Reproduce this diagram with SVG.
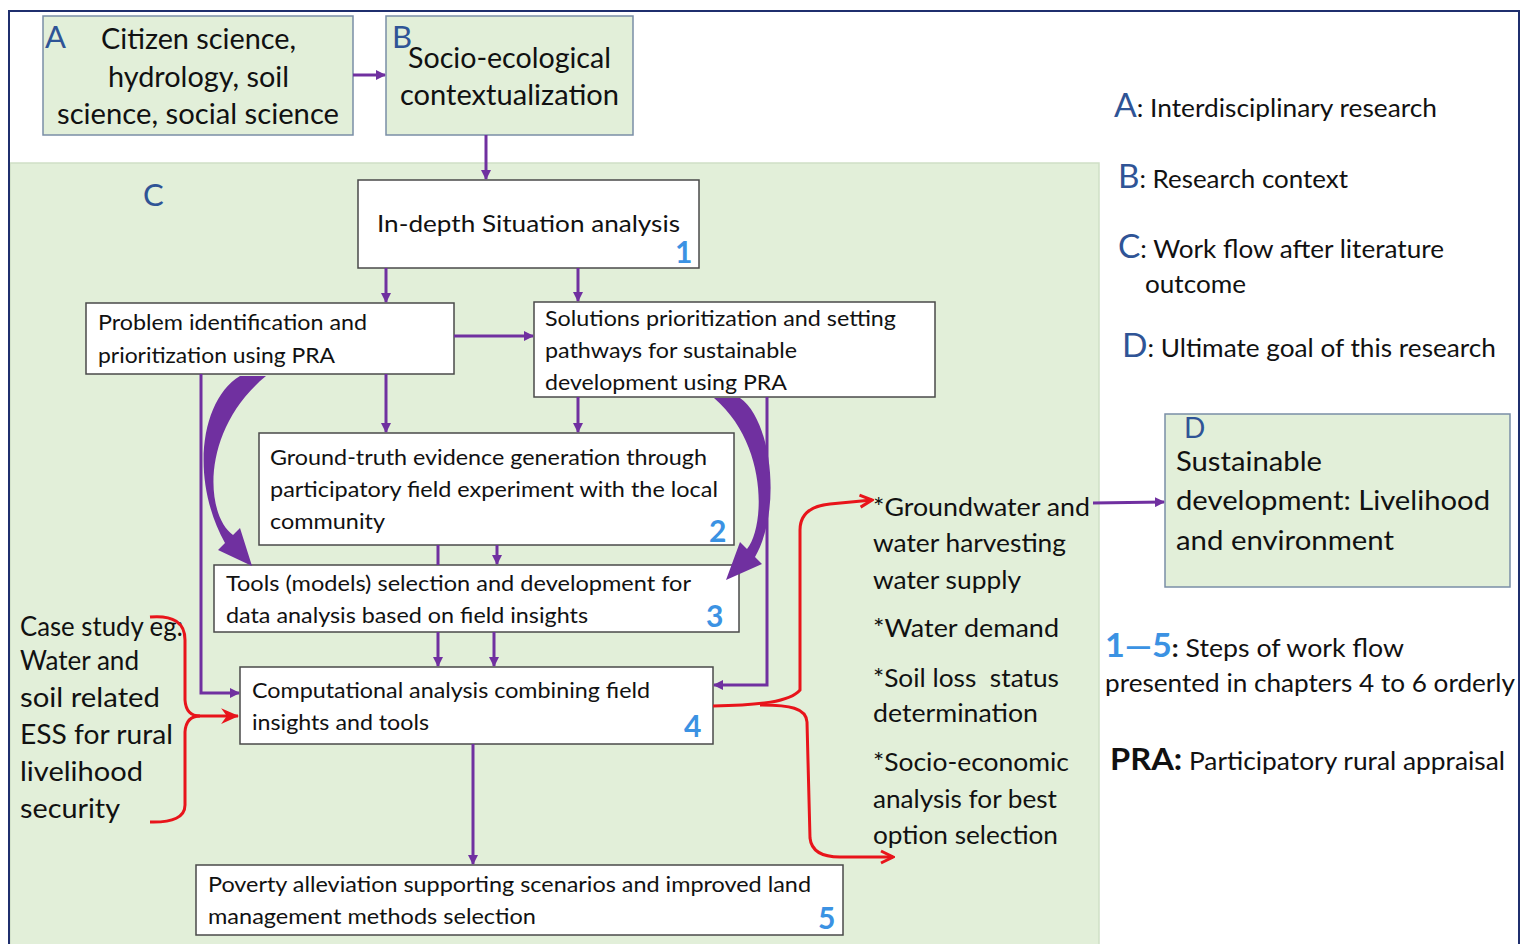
<svg xmlns="http://www.w3.org/2000/svg" width="1522" height="944" viewBox="0 0 1522 944">
<defs>
<style>
text{font-family:Lato,"Open Sans","Liberation Sans",sans-serif;fill:#111}
.gbox{fill:#e2efd9;stroke:#7a8ea6;stroke-width:1.5}
.wbox{fill:#fff;stroke:#4a4a4a;stroke-width:1.5}
.lt{fill:#2f5496}
.num{fill:#3b92e3;font-weight:bold;font-size:30px}
.bt{font-size:22px}
.pl{fill:none;stroke:#7030a0;stroke-width:3}
.rl{fill:none;stroke:#e8141b;stroke-width:3}
.cur{fill:#7030a0}
.leg{font-size:25px}
</style>
<marker id="ap" viewBox="0 0 10 10" refX="9" refY="5" markerWidth="10" markerHeight="10" markerUnits="userSpaceOnUse" orient="auto"><path d="M0 0 L10 5 L0 10 Z" fill="#7030a0"/></marker>
<marker id="ar" viewBox="0 0 16 16" refX="14" refY="8" markerWidth="16" markerHeight="16" markerUnits="userSpaceOnUse" orient="auto"><path d="M2 2 L14 8 L2 14" fill="none" stroke="#e8141b" stroke-width="3"/></marker>
<marker id="arf" viewBox="0 0 16 16" refX="15" refY="8" markerWidth="18" markerHeight="18" markerUnits="userSpaceOnUse" orient="auto"><path d="M0 1 L16 8 L0 15 L5 8 Z" fill="#e8141b"/></marker>
</defs>
<rect x="0" y="0" width="1522" height="944" fill="#fff"/>
<g id="frame">
<rect x="10" y="163" width="1089" height="790" fill="#e2efd9" stroke="#cfe0c6" stroke-width="1.5"/>
<path d="M9 950 L9 11 L1519 11 L1519 950" fill="none" stroke="#1f2f6e" stroke-width="2"/>
<text x="143" y="206" class="lt" font-size="31">C</text>
</g>
<g id="nodeA">
<rect x="43" y="16" width="310" height="119" class="gbox"/>
<text x="45" y="48" class="lt" font-size="31">A</text>
<text x="101" y="49" font-size="28" textLength="195" lengthAdjust="spacingAndGlyphs">Citizen science,</text>
<text x="108" y="87" font-size="28" textLength="181" lengthAdjust="spacingAndGlyphs">hydrology, soil</text>
<text x="57" y="124" font-size="28" textLength="282" lengthAdjust="spacingAndGlyphs">science, social science</text>
</g>
<g id="nodeB">
<rect x="386" y="16" width="247" height="119" class="gbox"/>
<text x="392" y="48" class="lt" font-size="31">B</text>
<text x="408" y="68" font-size="28" textLength="203" lengthAdjust="spacingAndGlyphs">Socio-ecological</text>
<text x="400" y="105" font-size="28" textLength="219" lengthAdjust="spacingAndGlyphs">contextualization</text>
</g>
<g id="node1">
<rect x="358" y="180" width="341" height="88" class="wbox"/>
<text x="377" y="232" font-size="24" textLength="303" lengthAdjust="spacingAndGlyphs">In-depth Situation analysis</text>
<text x="675" y="263" class="num">1</text>
</g>
<g id="nodeP">
<rect x="86" y="303" width="368" height="71" class="wbox"/>
<text x="98" y="330" class="bt" textLength="269" lengthAdjust="spacingAndGlyphs">Problem identification and</text>
<text x="98" y="363" class="bt" textLength="237" lengthAdjust="spacingAndGlyphs">prioritization using PRA</text>
</g>
<g id="nodeS">
<rect x="534" y="302" width="401" height="95" class="wbox"/>
<text x="545" y="326" class="bt" textLength="351" lengthAdjust="spacingAndGlyphs">Solutions prioritization and setting</text>
<text x="545" y="358" class="bt" textLength="252" lengthAdjust="spacingAndGlyphs">pathways for sustainable</text>
<text x="545" y="390" class="bt" textLength="242" lengthAdjust="spacingAndGlyphs">development using PRA</text>
</g>
<g id="node2">
<rect x="259" y="433" width="475" height="112" class="wbox"/>
<text x="270" y="465" class="bt" textLength="437" lengthAdjust="spacingAndGlyphs">Ground-truth evidence generation through</text>
<text x="270" y="497" class="bt" textLength="448" lengthAdjust="spacingAndGlyphs">participatory field experiment with the local</text>
<text x="270" y="529" class="bt" textLength="115" lengthAdjust="spacingAndGlyphs">community</text>
<text x="709" y="542" class="num">2</text>
</g>
<g id="node3">
<rect x="214" y="565" width="525" height="67" class="wbox"/>
<text x="226" y="591" class="bt" textLength="465" lengthAdjust="spacingAndGlyphs">Tools (models) selection and development for</text>
<text x="226" y="623" class="bt" textLength="362" lengthAdjust="spacingAndGlyphs">data analysis based on field insights</text>
<text x="706" y="627" class="num">3</text>
</g>
<g id="node4">
<rect x="240" y="667" width="473" height="77" class="wbox"/>
<text x="252" y="698" class="bt" textLength="398" lengthAdjust="spacingAndGlyphs">Computational analysis combining field</text>
<text x="252" y="730" class="bt" textLength="177" lengthAdjust="spacingAndGlyphs">insights and tools</text>
<text x="684" y="737" class="num">4</text>
</g>
<g id="node5">
<rect x="196" y="865" width="647" height="70" class="wbox"/>
<text x="208" y="892" class="bt" textLength="603" lengthAdjust="spacingAndGlyphs">Poverty alleviation supporting scenarios and improved land</text>
<text x="208" y="924" class="bt" textLength="328" lengthAdjust="spacingAndGlyphs">management methods selection</text>
<text x="818" y="929" class="num">5</text>
</g>
<g id="caseStudy">
<text x="20" y="636" font-size="27" textLength="163" lengthAdjust="spacingAndGlyphs">Case study eg:</text>
<text x="20" y="670" font-size="27" textLength="119" lengthAdjust="spacingAndGlyphs">Water and</text>
<text x="20" y="707" font-size="27" textLength="140" lengthAdjust="spacingAndGlyphs">soil related</text>
<text x="20" y="744" font-size="27" textLength="153" lengthAdjust="spacingAndGlyphs">ESS for rural</text>
<text x="20" y="781" font-size="27" textLength="123" lengthAdjust="spacingAndGlyphs">livelihood</text>
<text x="20" y="818" font-size="27" textLength="100" lengthAdjust="spacingAndGlyphs">security</text>
</g>
<g id="outputs">
<text x="873" y="516" font-size="25" textLength="217" lengthAdjust="spacingAndGlyphs">*Groundwater and</text>
<text x="873" y="552" font-size="25" textLength="193" lengthAdjust="spacingAndGlyphs">water harvesting</text>
<text x="873" y="589" font-size="25" textLength="148" lengthAdjust="spacingAndGlyphs">water supply</text>
<text x="873" y="637" font-size="25" textLength="186" lengthAdjust="spacingAndGlyphs">*Water demand</text>
<text x="873" y="687" font-size="25" xml:space="preserve" textLength="186" lengthAdjust="spacingAndGlyphs">*Soil loss  status</text>
<text x="873" y="722" font-size="25" textLength="165" lengthAdjust="spacingAndGlyphs">determination</text>
<text x="873" y="771" font-size="25" textLength="196" lengthAdjust="spacingAndGlyphs">*Socio-economic</text>
<text x="873" y="808" font-size="25" textLength="184" lengthAdjust="spacingAndGlyphs">analysis for best</text>
<text x="873" y="844" font-size="25" textLength="185" lengthAdjust="spacingAndGlyphs">option selection</text>
</g>
<g id="nodeD">
<rect x="1165" y="414" width="345" height="173" class="gbox"/>
<text x="1184" y="438" class="lt" font-size="28">D</text>
<text x="1176" y="471" font-size="27" textLength="146" lengthAdjust="spacingAndGlyphs">Sustainable</text>
<text x="1176" y="510" font-size="27" textLength="314" lengthAdjust="spacingAndGlyphs">development: Livelihood</text>
<text x="1176" y="550" font-size="27" textLength="218" lengthAdjust="spacingAndGlyphs">and environment</text>
</g>
<g id="legend">
<text x="1114" y="117" class="leg" textLength="323" lengthAdjust="spacingAndGlyphs"><tspan class="lt" font-size="32">A</tspan>: Interdisciplinary research</text>
<text x="1118" y="188" class="leg" textLength="230" lengthAdjust="spacingAndGlyphs"><tspan class="lt" font-size="32">B</tspan>: Research context</text>
<text x="1118" y="258" class="leg" textLength="326" lengthAdjust="spacingAndGlyphs"><tspan class="lt" font-size="32">C</tspan>: Work flow after literature</text>
<text x="1145" y="293" class="leg" textLength="101" lengthAdjust="spacingAndGlyphs">outcome</text>
<text x="1122" y="357" class="leg" textLength="374" lengthAdjust="spacingAndGlyphs"><tspan class="lt" font-size="32">D</tspan>: Ultimate goal of this research</text>
<text x="1105" y="657" class="leg" textLength="299" lengthAdjust="spacingAndGlyphs"><tspan fill="#3b92e3" font-weight="bold" font-size="32">1—5</tspan><tspan font-weight="bold">:</tspan> Steps of work flow</text>
<text x="1105" y="692" class="leg" textLength="410" lengthAdjust="spacingAndGlyphs">presented in chapters 4 to 6 orderly</text>
<text x="1110" y="770" class="leg" textLength="395" lengthAdjust="spacingAndGlyphs"><tspan font-weight="bold" font-size="31">PRA:</tspan> Participatory rural appraisal</text>
</g>
<g id="connectors">
<path class="pl" d="M353 75 L385 75" marker-end="url(#ap)"/>
<path class="pl" d="M486 135 L486 179" marker-end="url(#ap)"/>
<path class="pl" d="M386 268 L386 302" marker-end="url(#ap)"/>
<path class="pl" d="M578 268 L578 301" marker-end="url(#ap)"/>
<path class="pl" d="M454 336 L533 336" marker-end="url(#ap)"/>
<path class="pl" d="M386 374 L386 432" marker-end="url(#ap)"/>
<path class="pl" d="M578 397 L578 432" marker-end="url(#ap)"/>
<path class="pl" d="M438 545 L438 565"/>
<path class="pl" d="M497 545 L497 564" marker-end="url(#ap)"/>
<path class="pl" d="M438 632 L438 666" marker-end="url(#ap)"/>
<path class="pl" d="M494 632 L494 666" marker-end="url(#ap)"/>
<path class="pl" d="M201 374 L201 693 L239 693" marker-end="url(#ap)"/>
<path class="pl" d="M767 397 L767 685 L714 685" marker-end="url(#ap)"/>
<path class="pl" d="M473 744 L473 864" marker-end="url(#ap)"/>
<path class="pl" d="M1093 503 L1164 502" marker-end="url(#ap)"/>
<path class="cur" d="M240 376 C200 400 190 480 225 543 L218 550 L252 566 L240 528 L233 535 C205 515 200 430 266 376 Z"/>
<path class="cur" d="M740 398 C772 420 782 510 755 557 L762 564 L726 580 L740 542 L747 549 C765 527 768 444 714 398 Z"/>
<path class="rl" d="M150 617 Q185 614 185 640 L185 700 Q186 716 200 716 Q186 716 185 732 L185 805 Q185 823 150 822"/>
<path class="rl" d="M196 716 L238 716" marker-end="url(#arf)"/>
<path class="rl" d="M713 706 C760 705 790 702 800 690 L800 530 Q800 507 830 504 L872 500" marker-end="url(#ar)"/>
<path class="rl" d="M760 705 C790 705 806 708 807 722 L810 838 Q812 857 840 857 L893 857" marker-end="url(#ar)"/>
</g>
</svg>
